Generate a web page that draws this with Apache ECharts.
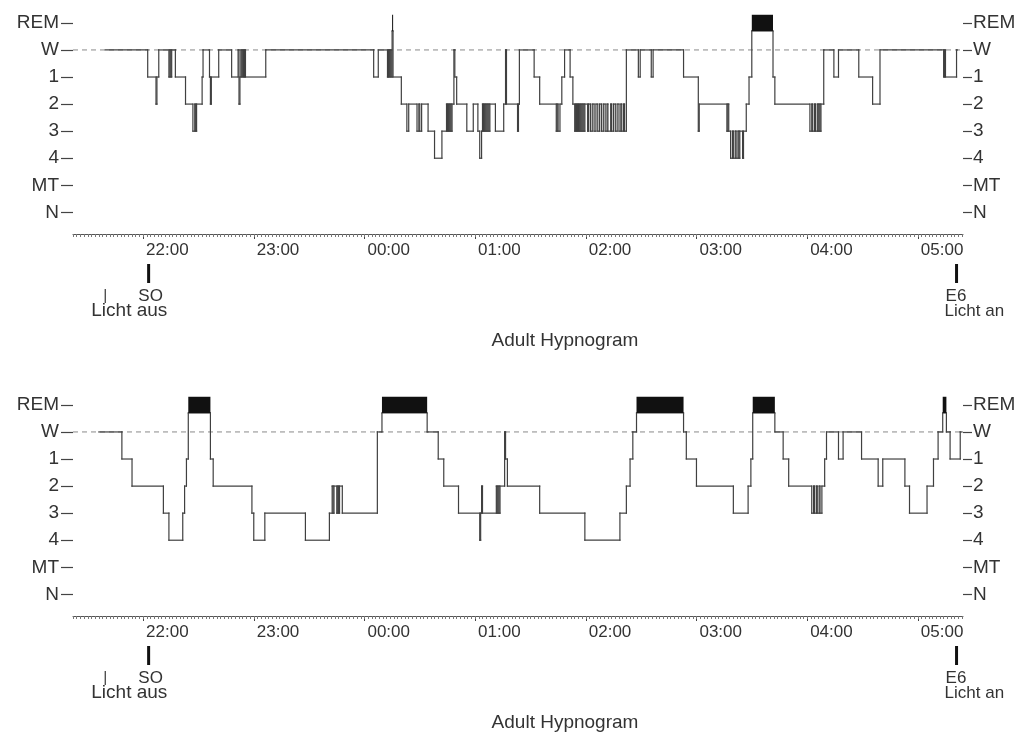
<!DOCTYPE html>
<html>
<head>
<meta charset="utf-8">
<script src="https://cdn.jsdelivr.net/npm/echarts@6/dist/echarts.min.js"></script>
<style>
  html, body { margin: 0; padding: 0; background: #fff; }
  #chart { width: 1030px; height: 736px; }
</style>
</head>
<body>
<div id="chart"></div>
<script>
// ---- Axis vocabulary ----------------------------------------------------
// Stage levels from bottom (0) to top (7)
const stageNames = ['N', 'MT', '4', '3', '2', '1', 'W', 'REM'];
// Clock labels; times are kept as minutes after 21:00
const hourLabels = ['22:00', '23:00', '00:00', '01:00', '02:00', '03:00', '04:00', '05:00'];
const hourTicks = [60, 120, 180, 240, 300, 360, 420, 480];
const timeMin = 22;
const timeMax = 504.5;

// ---- Night 1: stage changes [minute after 21:00, scored stage] ------------
const night1 = [
  [39.5, 'W'], [62.5, '1'], [67, '2'], [67.5, '1'], [68.5, 'W'], [74, '1'], [74.5, 'W'], [75, '1'], [75.5, 'W'], [77.5, '1'],
  [83, '2'], [87, '3'], [88, '2'], [88.5, '3'], [89, '2'], [92, '1'], [92.5, 'W'], [96, '1'], [96.5, '2'], [97, '1'],
  [101, 'W'], [108, '1'], [111.5, 'W'], [112, '2'], [112.5, '1'], [113, 'W'], [113.5, '1'], [114, 'W'], [114.5, '1'], [115, 'W'], [115.5, '1'],
  [126.5, 'W'], [185, '1'], [187.5, 'W'], [192.5, '1'], [193, 'W'], [193.5, '1'], [194, 'W'], [194.5, '1'], [195, 'REM'], [195.5, '1'],
  [200, '2'], [203, '3'], [204, '2'], [208.5, '3'], [209.5, '2'], [210, '3'], [211, '2'], [214.5, '3'], [218, '4'], [222, '3'],
  [224.5, '2'], [225, '3'], [225.5, '2'], [226, '3'], [226.5, '2'], [227, '3'], [227.5, '2'], [228.5, 'W'], [229, '1'], [230, '2'],
  [235.5, '3'], [239, '2'], [241.5, '3'], [242.5, '4'], [243.5, '3'], [244, '2'], [244.5, '3'], [245, '2'], [245.5, '3'], [246, '2'],
  [246.5, '3'], [247, '2'], [247.5, '3'], [248, '2'],
  [251, '3'], [255.5, '2'], [256.5, 'W'], [257, '2'], [263, '3'], [263.5, '2'], [264, 'W'], [272, '1'], [275, '2'],
  [284, '3'], [284.5, '2'], [285, '3'], [286, '2'], [287, '1'], [288.5, 'W'], [291.5, '1'], [293, '2'],
  [294, '3'], [294.5, '2'], [295, '3'], [295.5, '2'], [296, '3'], [296.5, '2'], [297, '3'], [297.5, '2'], [298, '3'], [298.5, '2'],
  [299, '3'], [299.5, '2'], [301, '3'], [301.5, '2'], [302.5, '3'], [303.5, '2'], [304.5, '3'], [305.5, '2'], [306.5, '3'], [307.5, '2'],
  [308.5, '3'], [309.5, '2'], [310.5, '3'], [311.5, '2'], [312, '3'], [313.5, '2'], [314, '3'], [315, '2'], [316, '3'], [317, '2'],
  [318, '3'], [319, '2'], [319.5, '3'], [320.5, '2'], [321, '3'],
  [322, 'W'], [328.5, '1'], [329.5, 'W'], [335.5, '1'], [336.5, 'W'], [353, '1'], [361, '3'], [361.5, '2'],
  [376.5, '3'], [377, '2'], [377.5, '3'], [378.5, '4'], [379.5, '3'], [380, '4'], [381, '3'], [381.5, '4'], [382.5, '3'], [383, '4'], [383.5, '3'],
  [385, '4'], [385.5, '3'], [387, '2'], [388.5, '1'], [390, 'REM'], [401.5, '1'], [402.5, '2'],
  [421.5, '3'], [422.5, '2'], [423, '3'], [424, '2'], [424.5, '3'], [425.5, '2'], [426, '3'], [426.5, '2'], [427, '3'], [427.5, '2'],
  [429, 'W'], [434.5, '1'], [437, 'W'], [448, '1'], [455.5, '2'], [459.5, 'W'], [494, '1'], [494.5, 'W'], [495, '1'], [501, 'W']
];
const night1End = 501.5;

// ---- Night 2 ---------------------------------------------------------------
const night2 = [
  [36, 'W'], [48.5, '1'], [54, '2'], [71, '3'], [74, '4'], [81.5, '3'], [82.5, '2'], [83.5, '1'], [84.5, 'REM'], [96.5, '1'],
  [98, '2'], [119, '3'], [120, '4'], [126, '3'], [148, '4'], [161, '3'], [162.5, '2'], [163, '3'], [163.5, '2'], [165, '3'],
  [165.5, '2'], [166, '3'], [166.5, '2'], [168, '3'], [187, 'W'], [189.5, 'REM'], [214, 'W'], [220, '1'], [223, '2'], [231, '3'],
  [242.5, '4'], [243, '3'], [243.5, '2'], [244, '3'], [251.5, '2'], [252, '3'], [252.5, '2'], [253, '3'], [253.5, '2'], [256, 'W'],
  [256.5, '1'], [257.5, '2'], [275, '3'], [299.5, '4'], [318.5, '3'], [322, '2'], [324, '1'], [325.5, 'W'], [327.5, 'REM'], [353, 'W'],
  [354.5, '1'], [360, '2'], [380, '3'], [388, '2'], [389.5, '1'], [390.5, 'REM'], [402.5, 'W'], [407, '1'], [410, '2'],
  [422.5, '3'], [423.5, '2'], [424, '3'], [425, '2'], [425.5, '3'], [426.5, '2'], [427, '3'], [428, '2'],
  [429.5, '1'], [430.5, 'W'], [437, '1'], [439.5, 'W'], [449.5, '1'], [458.5, '2'], [461, '1'], [473, '2'], [475.5, '3'],
  [485, '2'], [488.5, '1'], [491, 'W'], [493.5, 'REM'], [495.5, 'W'], [497.5, '1'], [503, 'W']
];
const night2End = 504;

// ---- Event markers (minutes after 21:00) ----------------------------------
const lightsOffTime = 39.5;   // "Licht aus"
const sleepOnsetTime = 63;    // SO
const sleepEndTime = 501;     // E6 / "Licht an"

const plotTitle = 'Adult Hypnogram';

// ---- Helpers -----------------------------------------------------------
const FONT = '"Liberation Sans", Arial, sans-serif';
const TEXT = '#333';
const LINE = '#404040';
const levelOf = { REM: 7, W: 6, '1': 5, '2': 4, '3': 3, '4': 2, MT: 1, N: 0 };
const REM_LOW = 6.7, REM_HIGH = 7.3;   // REM is drawn as a filled bar around its level
const lineLevel = s => (s === 'REM' ? REM_LOW : levelOf[s]);

// One item per scored stretch: [start, end, level, level of the following stretch]
function stageSegments(night, end) {
  return night.map(([t, s], i) => {
    const next = night[i + 1];
    const y = lineLevel(s);
    return [t, next ? next[0] : end, y, next ? lineLevel(next[1]) : y];
  });
}
function remBars(night, end) {
  const out = [];
  night.forEach(([t, s], i) => {
    if (s === 'REM') out.push([t, night[i + 1] ? night[i + 1][0] : end, levelOf.REM]);
  });
  return out;
}

const nights = [
  { epochs: night1, end: night1End },
  { epochs: night2, end: night2End }
];
const gridTops = [9.35, 391.35];
const gridHeight = 224.65;
const levelValues = [0, 1, 2, 3, 4, 5, 6, 7];
const minorTicks = [];
for (let t = timeMin; t <= timeMax; t += 2) minorTicks.push(t);

const grids = [], xAxes = [], yAxes = [], series = [];
nights.forEach((night, g) => {
  grids.push({ left: 73, right: 67, top: gridTops[g], height: gridHeight, outerBoundsMode: 'none' });

  // main time axis: line, hourly ticks, labels
  xAxes.push({
    gridIndex: g, type: 'value', position: 'bottom', min: timeMin, max: timeMax,
    splitLine: { show: false },
    axisLine: { show: true, onZero: false, lineStyle: { color: '#555', width: 1 } },
    axisTick: { show: true, customValues: hourTicks, length: 5, lineStyle: { color: '#444', width: 1 } },
    axisLabel: {
      show: true, customValues: hourTicks, align: 'left', margin: 8, padding: [0, 0, 0, 3],
      formatter: v => hourLabels[hourTicks.indexOf(v)],
      fontFamily: FONT, fontSize: 17, color: TEXT
    }
  });
  // fine two-minute ticks along the same line
  xAxes.push({
    gridIndex: g, type: 'value', position: 'bottom', min: timeMin, max: timeMax,
    splitLine: { show: false }, axisLine: { show: false, onZero: false }, axisLabel: { show: false },
    axisTick: { show: true, customValues: minorTicks, length: 3, lineStyle: { color: '#777', width: 1 } }
  });

  ['left', 'right'].forEach(side => {
    yAxes.push({
      gridIndex: g, type: 'value', position: side, min: -0.8, max: 7.5,
      splitLine: { show: false },
      axisLine: { show: false, onZero: false },
      axisTick: { show: true, customValues: levelValues, length: side === 'left' ? 12 : 9,
                  lineStyle: { color: '#444', width: 1.2 } },
      axisLabel: {
        show: true, customValues: levelValues, margin: side === 'left' ? 14 : 10,
        formatter: v => stageNames[Math.round(v)],
        fontFamily: FONT, fontSize: 19, color: TEXT, padding: [0, 0, 4, 0]
      }
    });
  });

  // dashed wake reference
  series.push({
    type: 'line', xAxisIndex: 2 * g, yAxisIndex: 2 * g, silent: true, z: 1,
    data: [[timeMin, levelOf.W], [timeMax, levelOf.W]],
    symbol: 'none', lineStyle: { color: '#8a8a8a', width: 1, type: [5, 4] }
  });
  // stage path: hold, then jump to the next stage
  series.push({
    type: 'custom', xAxisIndex: 2 * g, yAxisIndex: 2 * g, silent: true, z: 3,
    data: stageSegments(night.epochs, night.end),
    encode: { x: [0, 1], y: [2, 3] },
    renderItem: (params, api) => {
      const a = api.coord([api.value(0), api.value(2)]);
      const b = api.coord([api.value(1), api.value(2)]);
      const c = api.coord([api.value(1), api.value(3)]);
      const style = { stroke: LINE, lineWidth: 1.2, lineCap: 'square', fill: null };
      const children = [{ type: 'line', shape: { x1: a[0], y1: a[1], x2: b[0], y2: b[1] }, style }];
      if (api.value(3) !== api.value(2)) {
        children.push({ type: 'line', shape: { x1: b[0], y1: b[1], x2: c[0], y2: c[1] }, style });
      }
      return { type: 'group', children };
    }
  });
  // REM bars
  series.push({
    type: 'custom', xAxisIndex: 2 * g, yAxisIndex: 2 * g, silent: true, z: 4,
    data: remBars(night.epochs, night.end),
    encode: { x: [0, 1], y: 2 },
    renderItem: (params, api) => {
      const a = api.coord([api.value(0), REM_HIGH]);
      const b = api.coord([api.value(1), REM_LOW]);
      return {
        type: 'rect',
        shape: { x: a[0], y: a[1], width: Math.max(b[0] - a[0], 1), height: b[1] - a[1] },
        style: { fill: '#111' }
      };
    }
  });
});

const chart = echarts.init(document.getElementById('chart'), null, { renderer: 'canvas' });
chart.setOption({
  animation: false,
  backgroundColor: '#fff',
  grid: grids, xAxis: xAxes, yAxis: yAxes, series: series
});

// ---- Event annotations under each time axis -------------------------------
const graphic = [];
function label(text, x, y, align, size) {
  return {
    type: 'text', silent: true,
    style: { text, x, y, fill: TEXT, font: size + 'px ' + FONT, align, verticalAlign: 'middle',
             textAlign: align, textVerticalAlign: 'middle' }
  };
}
nights.forEach((night, g) => {
  const axisY = gridTops[g] + gridHeight;
  const px = t => chart.convertToPixel({ xAxisIndex: 2 * g }, t);
  const xOff = px(lightsOffTime), xSO = px(sleepOnsetTime), xEnd = px(sleepEndTime);

  graphic.push({ type: 'rect', silent: true, shape: { x: xSO - 1.5, y: axisY + 30, width: 3, height: 19 }, style: { fill: '#111' } });
  graphic.push({ type: 'rect', silent: true, shape: { x: xEnd - 1.5, y: axisY + 30, width: 3, height: 19 }, style: { fill: '#111' } });
  graphic.push({ type: 'line', silent: true, shape: { x1: xOff, y1: axisY + 55, x2: xOff, y2: axisY + 69 }, style: { stroke: '#444', lineWidth: 1.3 } });
  graphic.push(label('SO', xSO + 2, axisY + 62, 'center', 17));
  graphic.push(label('Licht aus', xOff - 14, axisY + 77, 'left', 19));
  graphic.push(label('E6', xEnd - 11, axisY + 62, 'left', 17));
  graphic.push(label('Licht an', xEnd - 12, axisY + 77, 'left', 17));
  graphic.push(label(plotTitle, 565, axisY + 107, 'center', 19));
});
chart.setOption({ graphic });
</script>
</body>
</html>
